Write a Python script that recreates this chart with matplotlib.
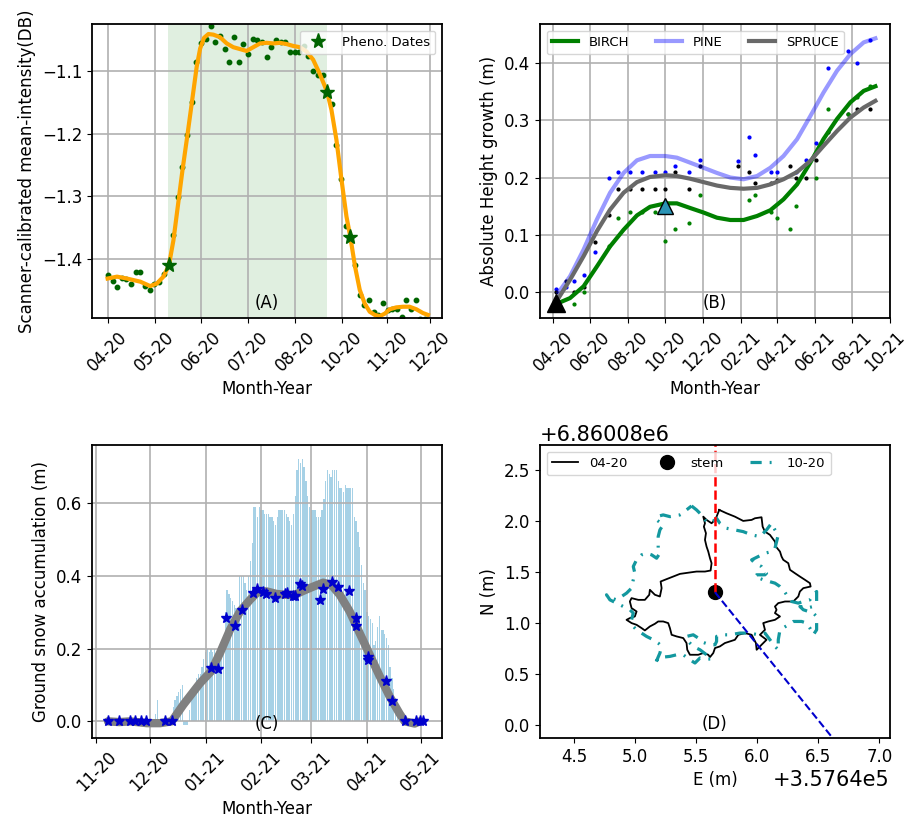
import numpy as np
import pandas as pd
import matplotlib
matplotlib.use('Agg')
import matplotlib.pyplot as plt
import matplotlib.dates as mdates
import matplotlib.transforms as mtransforms

plt.rcParams['font.size'] = 12
plt.rcParams['axes.linewidth'] = 1.3

# ---------------- (A) scanner intensity ----------------
a_days = [0, 3.2, 6, 9.1, 11.9, 15.1, 17.9, 21, 24, 27.2, 29.8, 33, 36, 41.7, 44.9, 47.9, 50.9,
          53.8, 56.8, 59.8, 63, 66, 69, 71.9, 74.9, 77.9, 80.9, 83.8, 86.8, 89.8, 92.8, 95.8,
          98.7, 101.7, 104.7, 107.7, 110.7, 113.6, 116.6, 119.6, 122.6, 125.6, 128.5, 131.5,
          134.5, 137.5, 143.4, 146.4, 149.4, 152.3, 158.3, 161.3, 164.3, 167.2, 170.2, 173.2,
          176.1, 179.1, 182.1, 185.1, 188.1, 191.1, 194.1, 197, 200, 202.8]
a_vals = [-1.4255, -1.435, -1.444, -1.430, -1.431, -1.440, -1.421, -1.421, -1.443, -1.449, -1.440,
          -1.436, -1.424, -1.361, -1.301, -1.253, -1.202, -1.150, -1.085, -1.056, -1.049, -1.028,
          -1.053, -1.044, -1.065, -1.086, -1.045, -1.086, -1.057, -1.073, -1.049, -1.051, -1.054,
          -1.078, -1.061, -1.051, -1.053, -1.053, -1.069, -1.069, -1.069, -1.060, -1.076, -1.100,
          -1.106, -1.106, -1.152, -1.218, -1.272, -1.347, -1.410, -1.458, -1.473, -1.465, -1.484,
          -1.489, -1.470, -1.481, -1.479, -1.479, -1.492, -1.465, -1.479, -1.465, -1.495, -1.495]
a_smooth_days = [0, 6, 12.3, 20.9, 27.2, 31.5, 35.7, 39.2, 42.1, 44.9, 47.9, 50.9, 53.8, 57, 59.2,
                 61.7, 64.5, 67.7, 71.9, 76.2, 80.4, 84.7, 88.9, 93.2, 97.5, 101.7, 106, 110.2,
                 114.5, 118.7, 123, 127.3, 131.5, 135.8, 140.4, 143.2, 146.4, 149.4, 152.8, 155.3,
                 158.3, 161.3, 164.5, 167.7, 170.9, 174.1, 177.3, 180.5, 184.7, 189, 193.2, 197.5,
                 201.7, 204.9]
a_smooth_vals = [-1.431, -1.428, -1.431, -1.436, -1.443, -1.439, -1.428, -1.410, -1.370, -1.316,
                 -1.258, -1.205, -1.152, -1.093, -1.064, -1.047, -1.041, -1.042, -1.046, -1.056,
                 -1.062, -1.065, -1.068, -1.062, -1.056, -1.055, -1.056, -1.055, -1.057, -1.060,
                 -1.062, -1.069, -1.082, -1.105, -1.133, -1.162, -1.210, -1.269, -1.332, -1.365,
                 -1.412, -1.449, -1.471, -1.484, -1.489, -1.491, -1.487, -1.480, -1.477, -1.476,
                 -1.476, -1.480, -1.486, -1.489]
pheno_days = [39.2, 140.4, 155.3]
pheno_vals = [-1.410, -1.133, -1.365]
season_span = [38.9, 140.4]
a_tick_pos = [0, 30, 60, 90, 120, 150, 179, 206]
a_tick_lab = ['04-20', '05-20', '06-20', '07-20', '08-20', '10-20', '11-20', '12-20']

# ---------------- (B) height growth ----------------
b_start = pd.Timestamp('2020-04-01')
birch_days = [34, 51, 92, 106, 125, 145, 166, 183, 198, 221, 239, 319, 328, 354, 365, 385, 395,
              428, 448, 480, 495, 516]
birch_vals = [-0.02, 0.0, 0.08, 0.13, 0.14, 0.14, 0.14, 0.09, 0.11, 0.12, 0.17, 0.16, 0.17, 0.14,
              0.13, 0.11, 0.15, 0.20, 0.32, 0.31, 0.34, 0.36]
pine_days = [5, 21, 34, 51, 68, 92, 106, 125, 145, 166, 183, 198, 221, 239, 301, 319, 328, 354,
             365, 395, 411, 428, 448, 480, 495, 516]
pine_vals = [0.005, 0.01, 0.02, 0.03, 0.07, 0.20, 0.21, 0.21, 0.21, 0.21, 0.21, 0.22, 0.21, 0.23,
             0.229, 0.27, 0.24, 0.21, 0.21, 0.21, 0.23, 0.26, 0.39, 0.42, 0.40, 0.44]
spruce_days = [5, 21, 34, 51, 68, 92, 106, 125, 145, 166, 183, 198, 221, 239, 301, 319, 328, 354,
               365, 385, 395, 411, 428, 448, 480, 495, 516]
spruce_vals = [0.0, 0.02, 0.0, 0.01, 0.088, 0.135, 0.18, 0.18, 0.18, 0.18, 0.18, 0.21, 0.18, 0.22,
               0.22, 0.21, 0.19, 0.19, 0.195, 0.22, 0.20, 0.20, 0.23, 0.28, 0.31, 0.32, 0.32]
fit_days = [9.2, 28, 50, 71.6, 93, 115, 136.7, 158, 183, 201.7, 223, 245, 266.8, 288.5, 310, 332,
            353.6, 375, 397, 418.6, 440, 462, 483.7, 505.4, 524.4]
birch_fit = [-0.0186, -0.01, 0.0105, 0.045, 0.080, 0.109, 0.134, 0.149, 0.155, 0.155, 0.147,
             0.139, 0.130, 0.126, 0.126, 0.133, 0.143, 0.162, 0.188, 0.226, 0.267, 0.302, 0.331,
             0.351, 0.359]
pine_fit = [0.0, 0.028, 0.0745, 0.127, 0.1735, 0.208, 0.23, 0.2375, 0.2375, 0.2346, 0.226, 0.217,
            0.208, 0.200, 0.197, 0.2026, 0.217, 0.2375, 0.2667, 0.307, 0.348, 0.386, 0.415,
            0.4355, 0.4425]
spruce_fit = [-0.01, 0.022, 0.063, 0.1066, 0.144, 0.1735, 0.192, 0.201, 0.204, 0.2026, 0.198,
              0.192, 0.186, 0.182, 0.1805, 0.182, 0.188, 0.197, 0.2096, 0.229, 0.255, 0.281,
              0.3045, 0.322, 0.3336]
tri_days = [4.9, 183]
tri_vals = [-0.0186, 0.150]

# ---------------- (C) snow ----------------
c_start = pd.Timestamp('2020-11-01')
bar_start = pd.Timestamp('2020-12-04')
snow_depth = [0.02, 0.06, 0, 0, 0, 0, 0, 0, 0, 0,
              0.04, 0.06, 0.07, 0.08, 0.09, 0.10, -0.01, -0.01, -0.01, 0.03,
              0.06, 0.08, 0.10, 0.12, 0.13, 0.13, 0.15, 0.17, 0.19, 0.20,
              0.19, 0.20, 0.19, 0.20, 0.18, 0.17, 0.18, 0.19, 0.19, 0.30,
              0.36, 0.35, 0.34, 0.33, 0.32, 0.31, 0.30, 0.40, 0.40, 0.40,
              0.38, 0.36, 0.40, 0.44, 0.49, 0.59, 0.59, 0.56, 0.59, 0.58,
              0.58, 0.57, 0.57, 0.57, 0.56, 0.56, 0.55, 0.54, 0.56, 0.58,
              0.58, 0.58, 0.58, 0.57, 0.56, 0.55, 0.54, 0.57, 0.62, 0.69,
              0.72, 0.71, 0.72, 0.70, 0.66, 0.62, 0.59, 0.58, 0.58, 0.58,
              0.56, 0.56, 0.56, 0.58, 0.61, 0.66, 0.69, 0.68, 0.67, 0.69,
              0.69, 0.69, 0.66, 0.64, 0.64, 0.63, 0.65, 0.64, 0.64, 0.64,
              0.64, 0.56, 0.55, 0.52, 0.48, 0.43, 0.38, 0.36, 0.30, 0.29,
              0.28, 0.27, 0.21, 0.22, 0.26, 0.29, 0.25, 0.25, 0.24, 0.23,
              0.21, 0.15, 0.12, 0.09, 0.05, 0.02, 0.0]
scan_days = [6.5, 12.8, 18.9, 21.7, 24.9, 27.8, 38.1, 42.1, 64, 68.1, 72.4, 77.4, 81.5, 87.6, 89.5,
             92.8, 94.7, 99.7, 105.3, 106.6, 109.9, 110.8, 113.6, 114.9, 124.7, 126.6, 131.8,
             135, 140.9, 144.8, 145.2, 151.7, 151.7, 161.9, 165.2, 172.1, 178.6, 180.5, 182.3]
scan_snow = [0, 0, 0, 0, 0, 0, 0, 0, 0.146, 0.1436, 0.285, 0.261, 0.3045, 0.352, 0.364, 0.355,
             0.350, 0.340, 0.350, 0.352, 0.345, 0.345, 0.377, 0.373, 0.334, 0.363, 0.382, 0.370,
             0.359, 0.285, 0.261, 0.178, 0.169, 0.110, 0.055, 0, 0, 0, 0]
trend_days = [6.5, 12.8, 18.9, 28.2, 35.6, 42.1, 48.6, 57.9, 64, 69, 74.6, 80.2, 85.8, 90.4, 95,
              100.6, 106.2, 110.8, 115.5, 121, 126.6, 131.2, 135.9, 141.4, 147, 152.6, 158.2,
              163.7, 169.3, 172.1, 177.7, 180.5]
trend_snow = [0, -0.002, 0.0, -0.005, -0.005, 0, 0.046, 0.105, 0.137, 0.1875, 0.2515, 0.302, 0.334,
              0.357, 0.357, 0.350, 0.3475, 0.3475, 0.3585, 0.370, 0.381, 0.375, 0.3475, 0.302,
              0.242, 0.183, 0.1235, 0.0686, 0.021, 0.0, -0.006, 0.0]

# ---------------- (D) crown outline ----------------
E0 = 357640.0
N0 = 6860080.0
crown0420_e = [5.690, 5.750, 5.818, 5.886, 5.955, 5.982, 6.036, 6.045, 6.064, 6.105, 6.146, 6.154,
               6.187, 6.200, 6.214, 6.255, 6.269, 6.309, 6.350, 6.391, 6.432, 6.438, 6.378, 6.350,
               6.337, 6.296, 6.228, 6.173, 6.146, 6.159, 6.146, 6.187, 6.146, 6.091, 6.050, 6.064,
               6.023, 6.077, 6.036, 5.996, 5.990, 5.955, 5.900, 5.846, 5.818, 5.777, 5.736, 5.695,
               5.655, 5.641, 5.614, 5.600, 5.559, 5.518, 5.450, 5.428, 5.422, 5.395, 5.341, 5.300,
               5.286, 5.272, 5.231, 5.190, 5.163, 5.122, 5.081, 5.054, 5.013, 4.972, 4.931, 4.958,
               4.999, 5.013, 4.972, 4.958, 4.972, 5.027, 5.081, 5.117, 5.122, 5.163, 5.204, 5.218,
               5.210, 5.245, 5.313, 5.368, 5.409, 5.450, 5.504, 5.573, 5.619, 5.627, 5.614, 5.600,
               5.586, 5.573, 5.581, 5.564, 5.573, 5.559, 5.586, 5.627, 5.655, 5.668, 5.690]
crown0420_n = [2.108, 2.075, 2.042, 2.000, 2.010, 2.026, 2.036, 1.944, 1.895, 1.863, 1.797, 1.748,
               1.699, 1.650, 1.618, 1.585, 1.520, 1.487, 1.454, 1.422, 1.389, 1.356, 1.340, 1.307,
               1.258, 1.209, 1.209, 1.193, 1.160, 1.128, 1.095, 1.062, 1.029, 1.013, 0.997, 0.931,
               0.882, 0.833, 0.784, 0.735, 0.801, 0.882, 0.899, 0.882, 0.833, 0.817, 0.801, 0.768,
               0.752, 0.703, 0.663, 0.686, 0.703, 0.686, 0.686, 0.735, 0.801, 0.850, 0.866, 0.882,
               0.948, 0.997, 1.013, 1.013, 0.990, 0.964, 0.925, 0.948, 0.980, 0.997, 1.029, 1.046,
               1.062, 1.111, 1.144, 1.209, 1.242, 1.225, 1.225, 1.275, 1.324, 1.275, 1.258, 1.340,
               1.405, 1.422, 1.454, 1.480, 1.487, 1.494, 1.503, 1.503, 1.513, 1.585, 1.634, 1.699,
               1.748, 1.814, 1.879, 1.944, 1.977, 2.042, 2.010, 1.977, 2.010, 2.042, 2.108]
crown1020_e = [5.463, 5.504, 5.545, 5.573, 5.614, 5.655, 5.668, 5.695, 5.750, 5.818, 5.886, 5.955,
               6.023, 6.077, 6.118, 6.146, 6.173, 6.159, 6.146, 6.118, 6.064, 6.009, 5.955, 5.982,
               6.036, 6.077, 6.064, 5.996, 5.982, 6.050, 6.146, 6.187, 6.214, 6.241, 6.282, 6.337,
               6.378, 6.432, 6.460, 6.487, 6.487, 6.460, 6.405, 6.350, 6.378, 6.460, 6.487, 6.487,
               6.487, 6.460, 6.432, 6.405, 6.364, 6.296, 6.255, 6.187, 6.173, 6.173, 6.146, 6.105,
               6.064, 6.009, 5.941, 5.859, 5.777, 5.709, 5.668, 5.668, 5.655, 5.614, 5.559, 5.518,
               5.477, 5.422, 5.436, 5.477, 5.532, 5.586, 5.627, 5.586, 5.532, 5.491, 5.450, 5.395,
               5.341, 5.286, 5.231, 5.190, 5.163, 5.204, 5.218, 5.190, 5.150, 5.095, 5.054, 5.013,
               4.986, 4.972, 4.986, 4.958, 4.904, 4.849, 4.795, 4.767, 4.808, 4.849, 4.890, 4.931,
               4.972, 4.986, 4.999, 4.986, 5.013, 5.054, 5.095, 5.136, 5.177, 5.204, 5.190, 5.190,
               5.190, 5.204, 5.231, 5.177, 5.177, 5.231, 5.286, 5.368, 5.395, 5.422, 5.463]
crown1020_n = [2.147, 2.108, 2.059, 2.010, 1.977, 2.010, 2.026, 1.977, 1.928, 1.912, 1.895, 1.863,
               1.846, 1.912, 1.977, 1.912, 1.863, 1.797, 1.732, 1.699, 1.683, 1.650, 1.618, 1.585,
               1.552, 1.487, 1.471, 1.471, 1.454, 1.422, 1.389, 1.356, 1.324, 1.275, 1.209, 1.193,
               1.209, 1.225, 1.275, 1.307, 1.209, 1.160, 1.144, 1.160, 1.128, 1.095, 1.062, 0.997,
               0.931, 0.882, 0.948, 0.997, 1.013, 1.013, 0.980, 0.931, 0.833, 0.735, 0.768, 0.833,
               0.899, 0.882, 0.899, 0.899, 0.882, 0.882, 0.866, 0.817, 0.784, 0.784, 0.807, 0.850,
               0.882, 0.866, 0.817, 0.768, 0.735, 0.686, 0.644, 0.644, 0.654, 0.605, 0.637, 0.686,
               0.686, 0.670, 0.663, 0.654, 0.588, 0.703, 0.768, 0.801, 0.833, 0.866, 0.899, 0.931,
               0.964, 1.029, 1.095, 1.128, 1.160, 1.193, 1.225, 1.275, 1.242, 1.225, 1.258, 1.291,
               1.340, 1.422, 1.487, 1.552, 1.618, 1.667, 1.683, 1.667, 1.634, 1.683, 1.732, 1.781,
               1.846, 1.912, 1.961, 2.010, 2.042, 2.059, 2.042, 2.059, 2.075, 2.108, 2.147]
stem_e = [5.655]
stem_n = [1.30]
north_e = [5.655, 5.655]
north_n = [1.30, 3.0]
sun_e = [5.655, 6.70]
sun_n = [1.30, -0.253]

teal = '#13989f'

fig = plt.figure(figsize=(9.09, 8.22), dpi=100)
axA = fig.add_axes([0.1012, 0.6131, 0.385, 0.3577])
axB = fig.add_axes([0.594, 0.6131, 0.385, 0.3577])
axC = fig.add_axes([0.1012, 0.1022, 0.385, 0.3564])
axD = fig.add_axes([0.594, 0.1022, 0.385, 0.3564])

# (A)
axA.set_axisbelow('line')
axA.axvspan(season_span[0], season_span[1], color='green', alpha=0.12, lw=0)
axA.plot(a_days, a_vals, 'o', color='darkgreen', ms=3.2)
axA.plot(a_smooth_days, a_smooth_vals, color='orange', lw=3)
axA.plot(pheno_days, pheno_vals, '*', color='darkgreen', ms=11, ls='none', label='Pheno. Dates')
axA.set_xlim(-10, 213.9)
axA.set_ylim(-1.494, -1.025)
axA.set_yticks([-1.4, -1.3, -1.2, -1.1])
axA.set_xticks(a_tick_pos)
axA.set_xticklabels(a_tick_lab, rotation=45)
axA.grid(True, color='#b0b0b0', lw=1.2)
axA.set_xlabel('Month-Year')
axA.set_ylabel('Scanner-calibrated mean-intensity(DB)')
axA.legend(loc='upper right', fontsize=9.5)
axA.text(0.5, 0.05, '(A)', transform=axA.transAxes, ha='center', va='center')

# (B)
def to_dates(start, days):
    return start + pd.to_timedelta(np.array(days), unit='D')

axB.set_axisbelow('line')
axB.plot(to_dates(b_start, pine_days), pine_vals, 'o', color='blue', ms=2)
axB.plot(to_dates(b_start, spruce_days), spruce_vals, 'o', color='black', ms=2)
axB.plot(to_dates(b_start, birch_days), birch_vals, 'o', color='green', ms=2)
axB.plot(to_dates(b_start, fit_days), birch_fit, color='green', lw=3, label='BIRCH')
axB.plot(to_dates(b_start, fit_days), pine_fit, color='blue', alpha=0.4, lw=3, label='PINE')
axB.plot(to_dates(b_start, fit_days), spruce_fit, color='dimgray', lw=3, label='SPRUCE')
tri_x = to_dates(b_start, tri_days)
axB.plot(tri_x[:1], tri_vals[:1], '^', color='black', ms=13, mec='black')
axB.plot(tri_x[1:], tri_vals[1:], '^', color='#2a93b5', ms=12, mec='black')
axB.set_xlim(pd.Timestamp('2020-03-11'), pd.Timestamp('2021-10-01'))
axB.set_ylim(-0.0448, 0.4675)
axB.set_yticks([0.0, 0.1, 0.2, 0.3, 0.4])
axB.xaxis.set_major_locator(mdates.MonthLocator(bymonth=[2, 4, 6, 8, 10, 12]))
axB.xaxis.set_major_formatter(mdates.DateFormatter('%m-%y'))
plt.setp(axB.get_xticklabels(), rotation=45, ha='center')
axB.grid(True, color='#b0b0b0', lw=1.2)
axB.set_xlabel('Month-Year')
axB.set_ylabel('Absolute Height growth (m)')
axB.legend(loc='upper left', ncol=3, fontsize=9.5)
axB.text(0.5, 0.05, '(B)', transform=axB.transAxes, ha='center', va='center')
# nudge the last date label so it stays inside the figure
fig.canvas.draw()
last_lab = axB.get_xticklabels()[-1]
last_lab.set_transform(last_lab.get_transform() +
                       mtransforms.ScaledTranslation(-4 / 72, 0, fig.dpi_scale_trans))

# (C)
axC.set_axisbelow('line')
bar_x = pd.date_range(bar_start, periods=len(snow_depth), freq='D')
axC.bar(bar_x, snow_depth, width=0.75, color='#a6d1e6')
axC.plot(to_dates(c_start, trend_days), trend_snow, color='gray', lw=6, solid_capstyle='round')
axC.plot(to_dates(c_start, scan_days), scan_snow, '*', color='mediumblue', ms=8, ls='none')
axC.set_xlim(pd.Timestamp('2020-10-29 14:00'), pd.Timestamp('2021-05-12 22:00'))
axC.set_ylim(-0.0457, 0.759)
axC.set_yticks([0.0, 0.2, 0.4, 0.6])
axC.xaxis.set_major_locator(mdates.MonthLocator())
axC.xaxis.set_major_formatter(mdates.DateFormatter('%m-%y'))
plt.setp(axC.get_xticklabels(), rotation=45, ha='center')
axC.grid(True, color='#b0b0b0', lw=1.2)
axC.set_xlabel('Month-Year')
axC.set_ylabel('Ground snow accumulation (m)')
axC.text(0.5, 0.048, '(C)', transform=axC.transAxes, ha='center', va='center')

# (D)
axD.plot(E0 + np.array(crown0420_e), N0 + np.array(crown0420_n), color='black', lw=1.3, label='04-20')
axD.plot(E0 + np.array(stem_e), N0 + np.array(stem_n), 'o', color='black', ms=10, ls='none', label='stem')
axD.plot(E0 + np.array(crown1020_e), N0 + np.array(crown1020_n), color=teal, lw=2.3,
         ls=(0, (3.5, 2.5, 0.6, 2.5)), label='10-20')
axD.plot(E0 + np.array(north_e), N0 + np.array(north_n), '--', color='red', lw=1.8)
axD.plot(E0 + np.array(sun_e), N0 + np.array(sun_n), '--', color='mediumblue', lw=1.5)
axD.set_xlim(E0 + 4.222, E0 + 7.087)
axD.set_ylim(N0 - 0.131, N0 + 2.745)
axD.set_xticks(E0 + np.array([4.5, 5.0, 5.5, 6.0, 6.5, 7.0]))
axD.set_yticks(N0 + np.array([0.0, 0.5, 1.0, 1.5, 2.0, 2.5]))
axD.xaxis.get_offset_text().set_fontsize(15)
axD.yaxis.get_offset_text().set_fontsize(15)
axD.set_xlabel('E (m)')
axD.set_ylabel('N (m)')
axD.legend(loc='upper left', ncol=3, fontsize=9.5)
axD.text(0.5, 0.048, '(D)', transform=axD.transAxes, ha='center', va='center')

fig.savefig('out.png', dpi=100)
